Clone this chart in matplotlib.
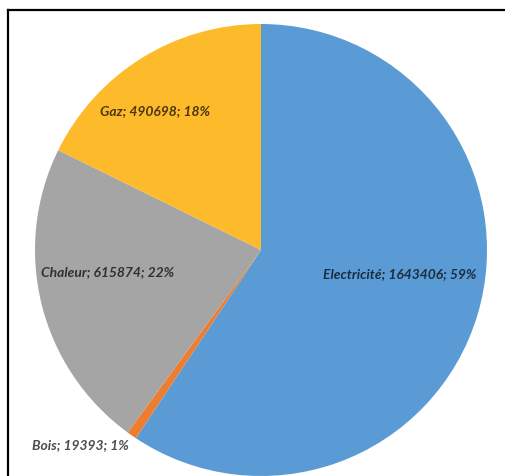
import matplotlib
matplotlib.use('Agg')
import matplotlib.pyplot as plt
from matplotlib.lines import Line2D

labels = ['Electricité', 'Bois', 'Chaleur', 'Gaz']
values = [1643406, 19393, 615874, 490698]
percents = [59, 1, 22, 18]
colors = ['#5B9BD5', '#ED7D31', '#A5A5A5', '#FDBB2B']

# label anchors (data coords, pie radius = 1)
label_pos = [(0.615, -0.106), (-0.80, -0.862), (-0.677, -0.097), (-0.47, 0.615)]

fig = plt.figure(figsize=(5.05, 4.76), dpi=100)
ax = fig.add_axes([35 / 505, 0 / 476, 452 / 505, 452 / 476])

wedges, _ = ax.pie(values, colors=colors, startangle=90, counterclock=False,
                   wedgeprops=dict(edgecolor='none'))
ax.set_xlim(-1, 1)
ax.set_ylim(-1, 1)
ax.set_aspect('equal')
ax.axis('off')

for lab, v, p, (x, y) in zip(labels, values, percents, label_pos):
    ax.text(x, y, f'{lab}; {v}; {p}%', ha='center', va='center',
            fontsize=10, fontstyle='italic', fontweight='bold',
            family=['Lato', 'DejaVu Sans'],
            color='black', alpha=0.7, clip_on=False)

# frame (only top and left edges visible in the crop)
fig.add_artist(Line2D([8 / 505, 1], [1 - 10 / 476, 1 - 10 / 476],
                      transform=fig.transFigure, color='black', lw=1.6))
fig.add_artist(Line2D([8 / 505, 8 / 505], [0, 1 - 10 / 476],
                      transform=fig.transFigure, color='black', lw=1.6))

fig.savefig('out.png', dpi=100)
